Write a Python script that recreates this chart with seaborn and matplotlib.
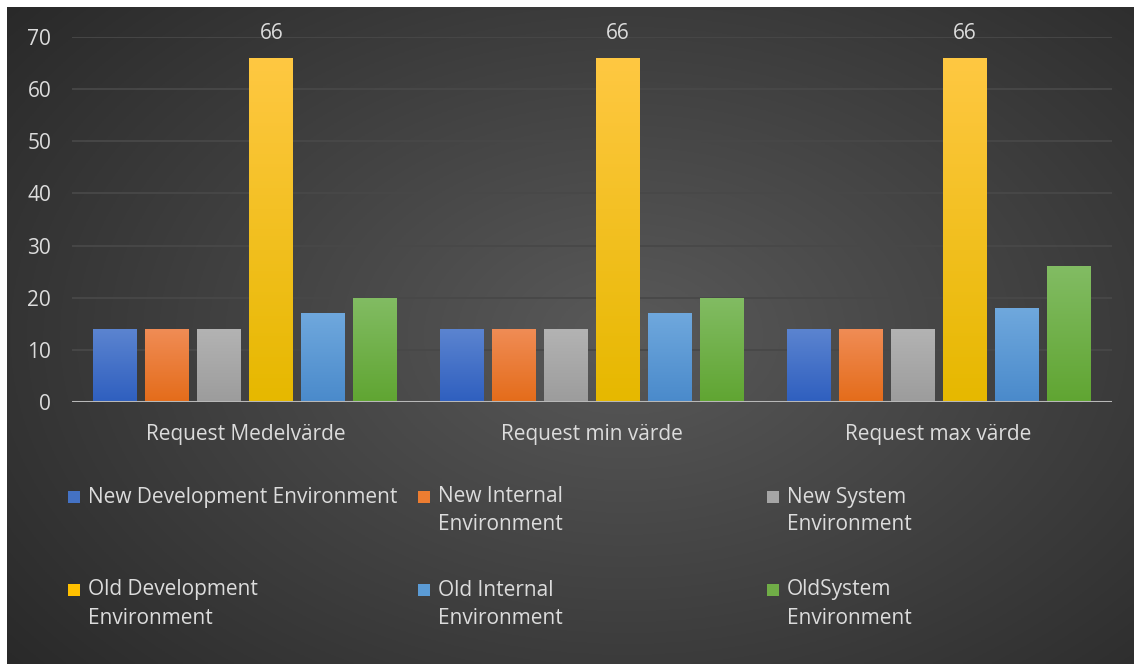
import matplotlib
matplotlib.use("Agg")
import matplotlib.pyplot as plt
import numpy as np
import pandas as pd
import seaborn as sns
from matplotlib.patches import Rectangle

categories = ["Request Medelvärde", "Request min värde", "Request max värde"]
series = ["New Development Environment", "New Internal Environment",
          "New System Environment", "Old Development Environment",
          "Old Internal Environment", "OldSystem Environment"]
legend_labels = ["New Development Environment", "New Internal\nEnvironment",
                 "New System\nEnvironment", "Old Development\nEnvironment",
                 "Old Internal\nEnvironment", "OldSystem\nEnvironment"]
values = {
    "New Development Environment": [14, 14, 14],
    "New Internal Environment": [14, 14, 14],
    "New System Environment": [14, 14, 14],
    "Old Development Environment": [66, 66, 66],
    "Old Internal Environment": [17, 17, 18],
    "OldSystem Environment": [20, 20, 26],
}
yticks = [0, 10, 20, 30, 40, 50, 60, 70]

base_colors = ["#4472c4", "#ed7d31", "#a5a5a5", "#ffc000", "#5b9bd5", "#70ad47"]
top_colors = ["#5b84d0", "#f08c55", "#b3b3b3", "#ffc842", "#6fa8dd", "#82bc63"]
bottom_colors = ["#2f5fbf", "#e46c1a", "#9c9c9c", "#e6b800", "#4a8acb", "#60a532"]
text_color = "#dcdcdc"
FS = 15

rows = []
for s in series:
    for c, v in zip(categories, values[s]):
        rows.append({"category": c, "series": s, "value": v})
df = pd.DataFrame(rows)

sns.set_theme(style="dark")
plt.rcParams["font.family"] = ["Open Sans", "DejaVu Sans"]

W, H = 1134, 664
fig = plt.figure(figsize=(W / 100, H / 100), dpi=100, facecolor="white")

# dark radial background
bg = fig.add_axes([7 / W, 0, 1 - 7 / W, 1 - 7 / H])
yy, xx = np.mgrid[0:1:300j, 0:1:500j]
d = np.sqrt(((xx - 0.55) / 0.75) ** 2 + ((yy - 0.5) / 0.85) ** 2)
shade = np.clip(0.35 - 0.20 * d, 0.15, 0.35)
bg.imshow(np.dstack([shade, shade, shade]), aspect="auto", extent=[0, 1, 0, 1])
bg.set_axis_off()

ax = fig.add_axes([72 / W, 1 - 402 / H, (1112 - 72) / W, (402 - 37) / H])
ax.patch.set_alpha(0)
sns.barplot(data=df, x="category", y="value", hue="series", hue_order=series,
            palette=base_colors, width=0.9, gap=0.16, legend=False, ax=ax)

# vertical gradient fill for each bar
for i, cont in enumerate(ax.containers):
    grad = np.linspace(0, 1, 100)[:, None]
    c0 = np.array(matplotlib.colors.to_rgb(top_colors[i]))
    c1 = np.array(matplotlib.colors.to_rgb(bottom_colors[i]))
    img = c0[None, None, :] * (1 - grad[..., None]) + c1[None, None, :] * grad[..., None]
    for bar in cont:
        x0, y0 = bar.get_x(), bar.get_y()
        w, h = bar.get_width(), bar.get_height()
        im = ax.imshow(img, aspect="auto", extent=[x0, x0 + w, y0, y0 + h], zorder=2)
        im.set_clip_path(bar)
        bar.set_facecolor("none")
        bar.set_edgecolor("none")

ax.bar_label(ax.containers[3], color=text_color, fontsize=FS, padding=10)

ax.set_xlim(-0.5, 2.5)
ax.set_ylim(0, 70)
ax.set_yticks(yticks)
ax.grid(axis="y", color="#484848", linewidth=1.3)
ax.set_axisbelow(True)
ax.axhline(0, color="#b8b8b8", linewidth=2.2, zorder=3)
for sp in ax.spines.values():
    sp.set_visible(False)
ax.set_xlabel("")
ax.set_ylabel("")
ax.tick_params(axis="x", colors=text_color, labelsize=FS, pad=16, length=0)
ax.tick_params(axis="y", colors=text_color, labelsize=FS, pad=15, length=0)

# legend, 3 columns x 2 rows, wrapped labels
col_x = [68, 418, 767]
row_y = [497, 590]
for k, (lab, col) in enumerate(zip(legend_labels, base_colors)):
    cx = col_x[k % 3]
    cy = row_y[k // 3]
    fig.add_artist(Rectangle(((cx) / W, 1 - (cy + 6) / H), 12 / W, 12 / H,
                             transform=fig.transFigure, facecolor=col,
                             edgecolor="none"))
    for j, line in enumerate(lab.split("\n")):
        fig.text((cx + 20) / W, 1 - (cy + j * 28) / H, line, color=text_color,
                 fontsize=FS, va="center", ha="left")

fig.savefig("out.png", dpi=100, facecolor="white")
